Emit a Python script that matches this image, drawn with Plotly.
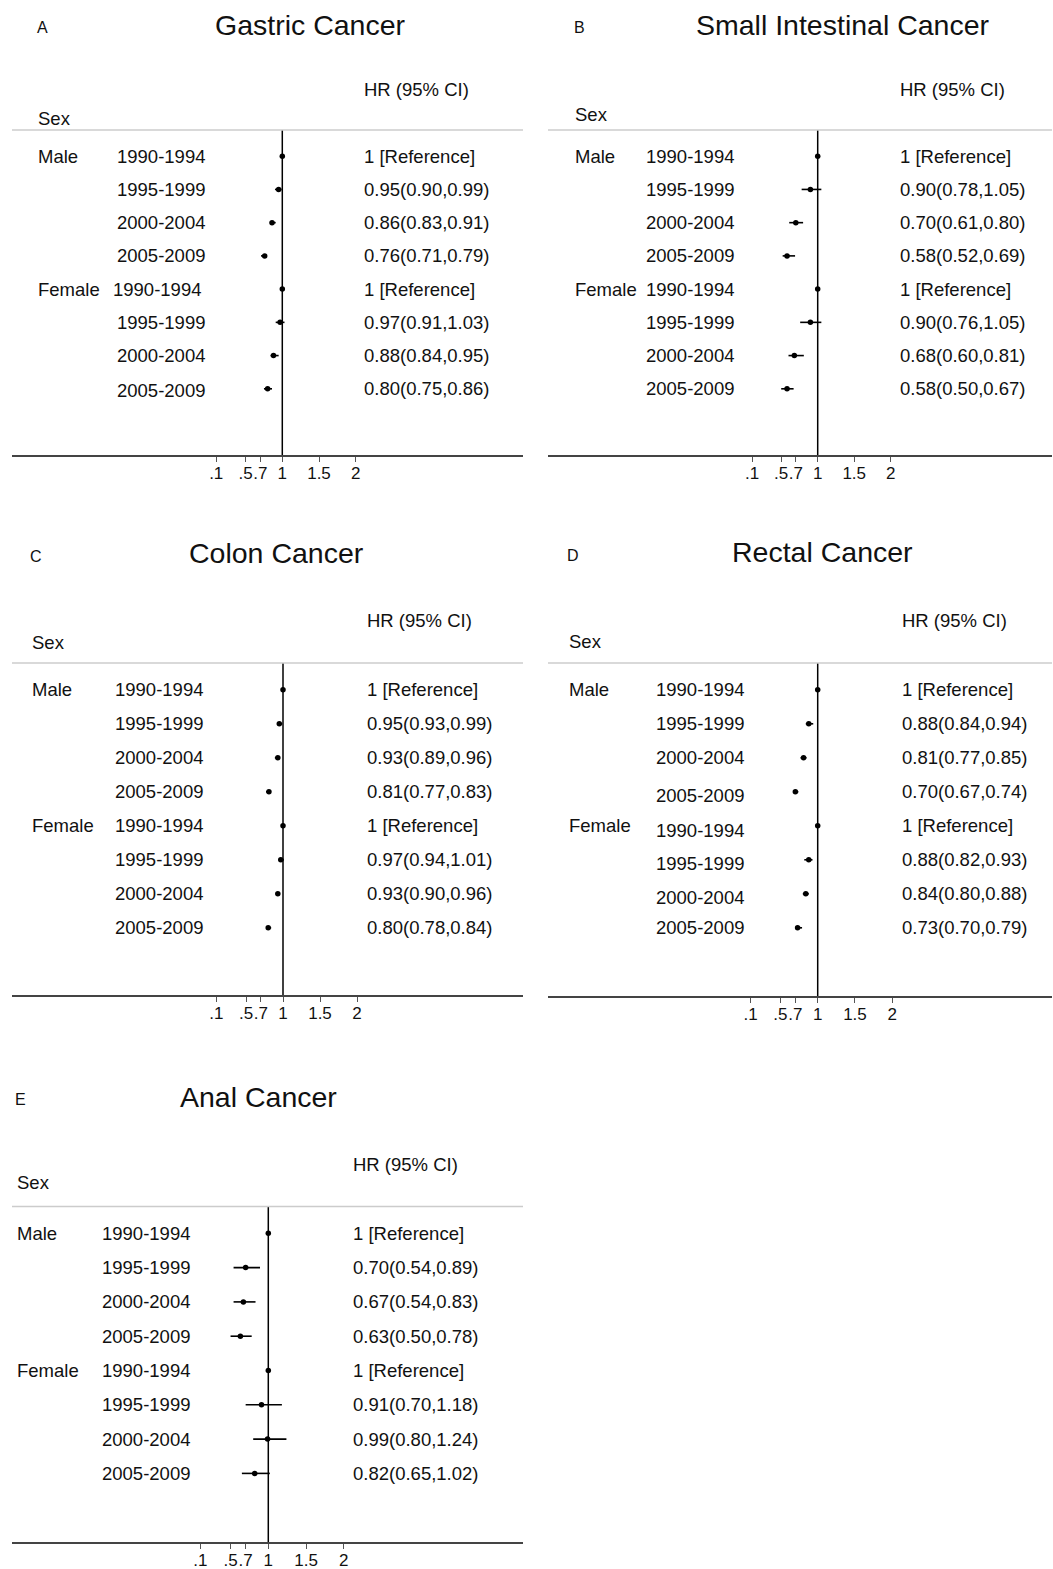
import plotly.graph_objects as go

W, H = 1053, 1569
FONT = "Liberation Sans, Arial, Helvetica, sans-serif"

# ---------------- data ----------------
periods = ["1990-1994", "1995-1999", "2000-2004", "2005-2009",
           "1990-1994", "1995-1999", "2000-2004", "2005-2009"]
sex_labels = ["Male", "", "", "", "Female", "", "", ""]
tick_vals = [0.1, 0.5, 0.7, 1, 1.5, 2]
tick_text = [".1", ".5", ".7", "1", "1.5", "2"]
titles = ["Gastric Cancer", "Small Intestinal Cancer", "Colon Cancer",
          "Rectal Cancer", "Anal Cancer"]
letters = ["A", "B", "C", "D", "E"]

gastric_hr = [1, 0.95, 0.86, 0.76, 1, 0.97, 0.88, 0.80]
gastric_lo = [1, 0.90, 0.83, 0.71, 1, 0.91, 0.84, 0.75]
gastric_hi = [1, 0.99, 0.91, 0.79, 1, 1.03, 0.95, 0.86]

small_hr = [1, 0.90, 0.70, 0.58, 1, 0.90, 0.68, 0.58]
small_lo = [1, 0.78, 0.61, 0.52, 1, 0.76, 0.60, 0.50]
small_hi = [1, 1.05, 0.80, 0.69, 1, 1.05, 0.81, 0.67]

colon_hr = [1, 0.95, 0.93, 0.81, 1, 0.97, 0.93, 0.80]
colon_lo = [1, 0.93, 0.89, 0.77, 1, 0.94, 0.90, 0.78]
colon_hi = [1, 0.99, 0.96, 0.83, 1, 1.01, 0.96, 0.84]

rectal_hr = [1, 0.88, 0.81, 0.70, 1, 0.88, 0.84, 0.73]
rectal_lo = [1, 0.84, 0.77, 0.67, 1, 0.82, 0.80, 0.70]
rectal_hi = [1, 0.94, 0.85, 0.74, 1, 0.93, 0.88, 0.79]

anal_hr = [1, 0.70, 0.67, 0.63, 1, 0.91, 0.99, 0.82]
anal_lo = [1, 0.54, 0.54, 0.50, 1, 0.70, 0.80, 0.65]
anal_hi = [1, 0.89, 0.83, 0.78, 1, 1.18, 1.24, 1.02]

series = [
    (gastric_hr, gastric_lo, gastric_hi),
    (small_hr, small_lo, small_hi),
    (colon_hr, colon_lo, colon_hi),
    (rectal_hr, rectal_lo, rectal_hi),
    (anal_hr, anal_lo, anal_hi),
]

# ---------------- layout (pixel positions) ----------------
panels = [
    dict(x0=12, x1=523, one=282.3, scale=73.4, ytop=130, yax=455, row0=156.2, sp=33.23,
         letter=(42, 28), title=(310, 25), hdr=(362, 89.5), sex=(36, 118.5),
         sex_x=36, date_x=115, hr_x=362, date_dx=[0, 0, 0, 0, -4, 0, 0, 0],
         date_dy=[0, 0, 0, 0, 0, 0, 0, 2]),
    dict(x0=548, x1=1052, one=817.7, scale=73.0, ytop=130, yax=455, row0=156.2, sp=33.23,
         letter=(579, 28), title=(843, 25), hdr=(898, 89.5), sex=(573, 114.5),
         sex_x=573, date_x=644, hr_x=898, date_dx=[0] * 8, date_dy=[0] * 8),
    dict(x0=12, x1=523, one=283.0, scale=74.0, ytop=663, yax=995, row0=689.8, sp=34.0,
         letter=(36, 557), title=(276, 553), hdr=(365, 620), sex=(30, 642.5),
         sex_x=30, date_x=113, hr_x=365, date_dx=[0] * 8, date_dy=[0] * 8),
    dict(x0=548, x1=1052, one=817.7, scale=74.5, ytop=663, yax=996, row0=689.8, sp=34.0,
         letter=(573, 555), title=(822, 552), hdr=(900, 620), sex=(567, 641.5),
         sex_x=567, date_x=654, hr_x=900, date_dx=[0] * 8,
         date_dy=[0, 0, 0, 4, 5, 4, 4, 0]),
    dict(x0=12, x1=523, one=268.3, scale=75.5, ytop=1206.5, yax=1542, row0=1233.3, sp=34.3,
         letter=(20, 1099), title=(258, 1097), hdr=(351, 1164), sex=(15, 1182),
         sex_x=15, date_x=100, hr_x=351, date_dx=[0] * 8, date_dy=[0] * 8),
]

TXT = "#111111"
ROW_FS = 18.5


def px(x):
    return x / W


def py(y):
    return 1 - y / H


def hr_label(h, l, u):
    if h == 1 and l == 1 and u == 1:
        return "1 [Reference]"
    return f"{h:.2f}({l:.2f},{u:.2f})"


fig = go.Figure()
annotations = []
shapes = []
layout_axes = {}

for i, (p, (hr, lo, hi)) in enumerate(zip(panels, series)):
    sfx = "" if i == 0 else str(i + 1)
    xname, yname = "x" + sfx, "y" + sfx
    rows = list(range(len(hr)))

    fig.add_trace(go.Scatter(
        x=hr, y=rows, xaxis=xname, yaxis=yname, mode="markers",
        marker=dict(size=5.5, color="black", symbol="circle"),
        error_x=dict(type="data", symmetric=False,
                     array=[u - h for h, u in zip(hr, hi)],
                     arrayminus=[h - l for h, l in zip(hr, lo)],
                     width=0, thickness=1.6, color="black"),
        showlegend=False, hoverinfo="skip", cliponaxis=False))

    xr = [1 - (p["one"] - p["x0"]) / p["scale"], 1 + (p["x1"] - p["one"]) / p["scale"]]
    yr = [(p["yax"] - p["row0"]) / p["sp"], (p["ytop"] - p["row0"]) / p["sp"]]

    layout_axes["xaxis" + sfx] = dict(
        domain=[px(p["x0"]), px(p["x1"])], range=xr, anchor=yname,
        showgrid=False, zeroline=False, showline=True, linecolor="#444444",
        linewidth=1.5, ticks="outside", ticklen=5, tickwidth=1.2, tickcolor="#555555",
        tickvals=tick_vals, ticktext=tick_text, tickangle=0, ticklabelstandoff=-3,
        tickfont=dict(family=FONT, size=17, color=TXT), fixedrange=True)
    layout_axes["yaxis" + sfx] = dict(
        domain=[py(p["yax"]), py(p["ytop"])], range=yr, anchor=xname,
        showgrid=False, zeroline=False, showline=False, showticklabels=False,
        ticks="", fixedrange=True)

    # reference line at HR = 1
    shapes.append(dict(type="line", xref=xname, x0=1, x1=1,
                       yref=yname + " domain", y0=0, y1=1,
                       line=dict(color="black", width=1.5), layer="below"))
    # light header rule
    shapes.append(dict(type="line", xref=xname + " domain", x0=0, x1=1,
                       yref=yname + " domain", y0=1, y1=1,
                       line=dict(color="#cccccc", width=1.5), layer="below"))

    # panel letter & title
    annotations.append(dict(text=letters[i], xref="paper", yref="paper",
                            x=px(p["letter"][0]), y=py(p["letter"][1]),
                            xanchor="center", yanchor="middle", showarrow=False,
                            font=dict(family=FONT, size=16, color=TXT)))
    annotations.append(dict(text=titles[i], xref="paper", yref="paper",
                            x=px(p["title"][0]), y=py(p["title"][1]),
                            xanchor="center", yanchor="middle", showarrow=False,
                            font=dict(family=FONT, size=28.5, color=TXT)))
    annotations.append(dict(text="HR (95% CI)", xref="paper", yref="paper",
                            x=px(p["hdr"][0]), y=py(p["hdr"][1]),
                            xanchor="left", yanchor="middle", showarrow=False,
                            font=dict(family=FONT, size=ROW_FS, color=TXT)))
    annotations.append(dict(text="Sex", xref="paper", yref="paper",
                            x=px(p["sex"][0]), y=py(p["sex"][1]),
                            xanchor="left", yanchor="middle", showarrow=False,
                            font=dict(family=FONT, size=ROW_FS, color=TXT)))

    for r in rows:
        if sex_labels[r]:
            annotations.append(dict(text=sex_labels[r], xref="paper", yref=yname,
                                    x=px(p["sex_x"]), y=r, xanchor="left",
                                    yanchor="middle", showarrow=False,
                                    font=dict(family=FONT, size=ROW_FS, color=TXT)))
        annotations.append(dict(text=periods[r], xref="paper", yref=yname,
                                x=px(p["date_x"] + p["date_dx"][r]),
                                y=r + p["date_dy"][r] / p["sp"], xanchor="left",
                                yanchor="middle", showarrow=False,
                                font=dict(family=FONT, size=ROW_FS, color=TXT)))
        annotations.append(dict(text=hr_label(hr[r], lo[r], hi[r]), xref="paper",
                                yref=yname, x=px(p["hr_x"]), y=r, xanchor="left",
                                yanchor="middle", showarrow=False,
                                font=dict(family=FONT, size=ROW_FS, color=TXT)))

fig.update_layout(
    width=W, height=H, autosize=False,
    margin=dict(l=0, r=0, t=0, b=0, pad=0),
    paper_bgcolor="white", plot_bgcolor="rgba(0,0,0,0)",
    font=dict(family=FONT, color=TXT),
    annotations=annotations, shapes=shapes, showlegend=False,
    **layout_axes)

fig.write_html("out.html", config={"displayModeBar": False},
               post_script="document.body.style.margin='0px';document.body.style.overflow='hidden';")
